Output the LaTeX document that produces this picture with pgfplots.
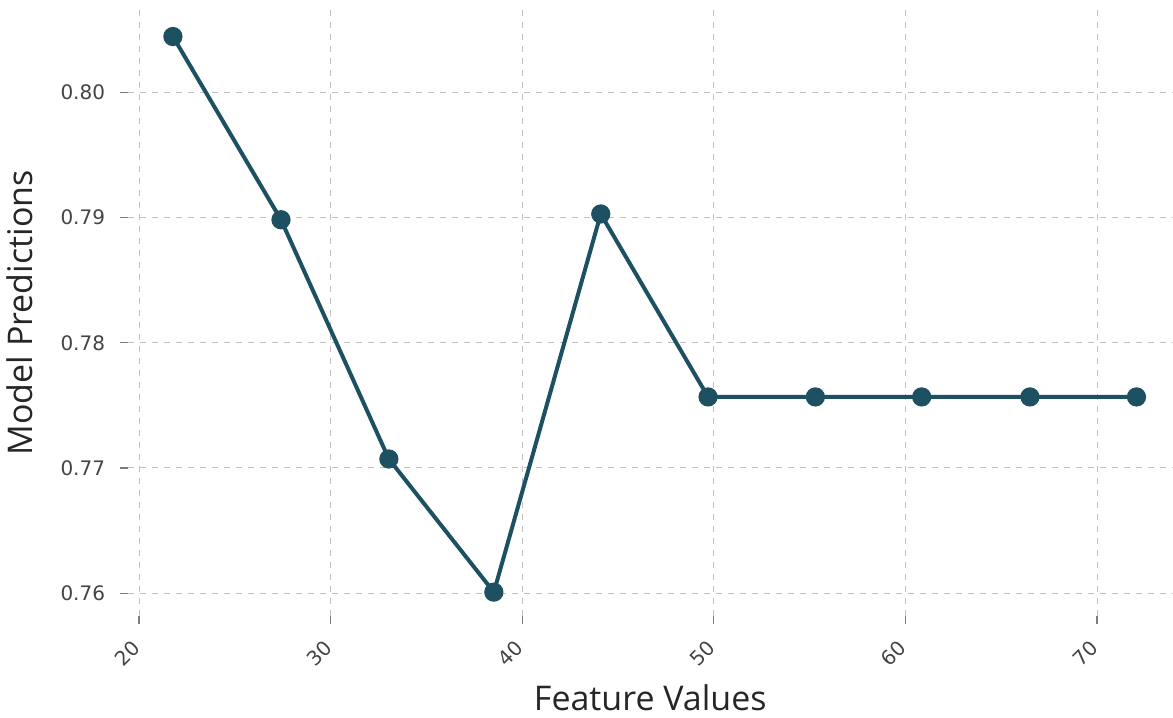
\documentclass[border=0pt]{standalone}
\usepackage{pgfplots}
\pgfplotsset{compat=1.18}
\usepackage{fontspec}
\setmainfont{DejaVu Sans}
\newfontfamily\labfont{Open Sans}
\definecolor{lc}{HTML}{1D5060}
\definecolor{tc}{HTML}{444444}
\begin{document}
\begin{tikzpicture}
\begin{axis}[
  width=522.5pt, height=303pt, scale only axis,
  xmin=19.43, xmax=73.94, ymin=0.7582, ymax=0.8066,
  axis line style={draw=none},
  xtick={20,30,40,50,60,70},
  ytick={0.76,0.77,0.78,0.79,0.80},
  yticklabel style={/pgf/number format/fixed,/pgf/number format/fixed zerofill,/pgf/number format/precision=2, xshift=-4pt},
  xtick pos=bottom, ytick pos=left,
  tick align=outside,
  major tick length=4pt,
  tick style={tc!70, line width=0.6pt},
  /pgf/number format/assume math mode=true,
  ticklabel style={font=\fontsize{10}{12}\selectfont, text=tc},
  xticklabel style={rotate=45, anchor=north east, xshift=-4.8pt, yshift=0.85pt},
  grid=major,
  major grid style={gray!50, dashed, line width=0.5pt},
  xlabel={\labfont Feature Values},
  ylabel={\labfont Model Predictions},
  label style={font=\fontsize{17}{19}\selectfont, text=black!85},
  xlabel style={yshift=0pt},
  ylabel style={yshift=7pt},
]
\addplot[lc, line width=2pt, mark=*, mark size=3.8pt, mark options={fill=lc, draw=lc}] coordinates {
(21.77,0.80448) (27.41,0.78984) (33.04,0.77072) (38.52,0.76008) (44.10,0.79030)
(49.70,0.77568) (55.30,0.77568) (60.85,0.77568) (66.50,0.77568) (72.06,0.77568)
};
\end{axis}
\path (current axis.north) ++(0,5pt);
\end{tikzpicture}
\end{document}
